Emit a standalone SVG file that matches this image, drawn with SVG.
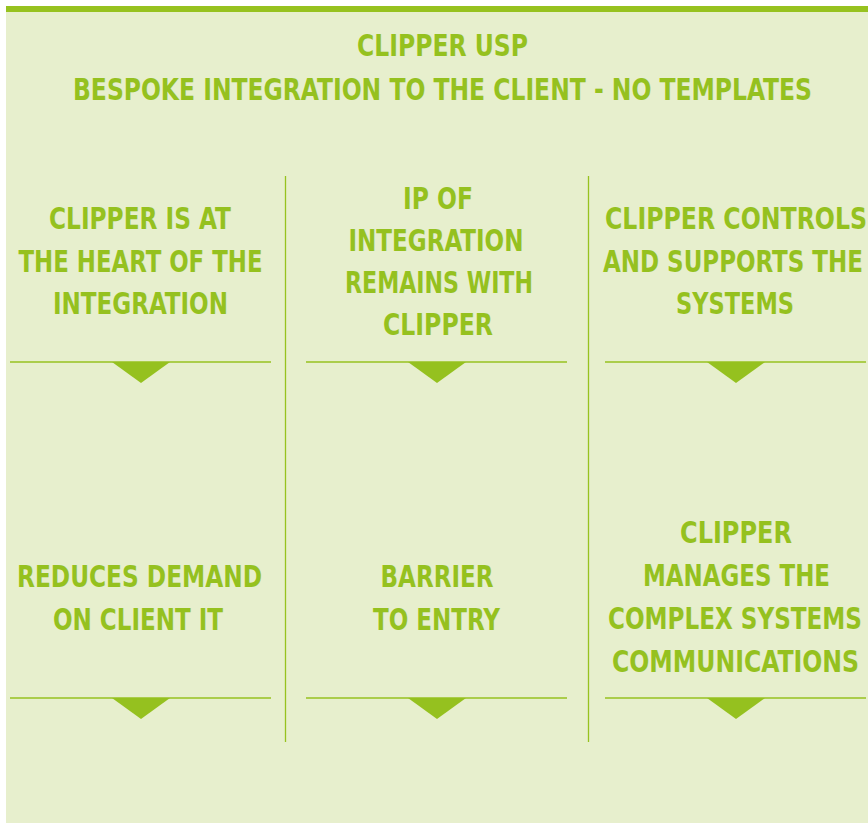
<svg xmlns="http://www.w3.org/2000/svg" width="868" height="823" viewBox="0 0 868 823">
  <style>
    .bg { fill: #e7efcd; }
    .bar { fill: #97c21f; }
    .t { font-family: "Liberation Sans Narrow", "DejaVu Sans Condensed", "Liberation Sans", sans-serif; font-weight: bold; font-size: 29.5px; fill: #95c11f; text-anchor: middle; }
    .rule { stroke: #97c21f; stroke-width: 1.3; fill: none; }
    .tri { fill: #95c11f; }
  </style>
  <defs>
    <!-- downward pointer under each card -->
    <polygon id="pointer" points="-29,0 29,0 0,21"/>
  </defs>

  <!-- panel -->
  <rect class="bg" x="6" y="6" width="862" height="817"/>
  <rect class="bar" x="6" y="6" width="862" height="6"/>

  <g id="title">
    <text class="t" x="442.5" y="56" textLength="171" lengthAdjust="spacingAndGlyphs">CLIPPER USP</text>
    <text class="t" x="442.5" y="100" textLength="739" lengthAdjust="spacingAndGlyphs">BESPOKE INTEGRATION TO THE CLIENT - NO TEMPLATES</text>
  </g>

  <!-- column separators -->
  <g id="separators">
    <line class="rule" x1="285.5" y1="176" x2="285.5" y2="742"/>
    <line class="rule" x1="588.5" y1="176" x2="588.5" y2="742"/>
  </g>

  <g id="heart">
    <text class="t" x="140" y="229" textLength="182" lengthAdjust="spacingAndGlyphs">CLIPPER IS AT</text>
    <text class="t" x="140.5" y="272" textLength="244" lengthAdjust="spacingAndGlyphs">THE HEART OF THE</text>
    <text class="t" x="140.5" y="314" textLength="175" lengthAdjust="spacingAndGlyphs">INTEGRATION</text>
    <line class="rule" x1="10" y1="362" x2="271" y2="362"/>
    <use href="#pointer" class="tri" x="141" y="362"/>
  </g>

  <g id="ip">
    <text class="t" x="438" y="209" textLength="70" lengthAdjust="spacingAndGlyphs">IP OF</text>
    <text class="t" x="436" y="251" textLength="175" lengthAdjust="spacingAndGlyphs">INTEGRATION</text>
    <text class="t" x="439" y="293" textLength="188" lengthAdjust="spacingAndGlyphs">REMAINS WITH</text>
    <text class="t" x="438" y="335" textLength="110" lengthAdjust="spacingAndGlyphs">CLIPPER</text>
    <line class="rule" x1="306" y1="362" x2="567" y2="362"/>
    <use href="#pointer" class="tri" x="437" y="362"/>
  </g>

  <g id="controls">
    <text class="t" x="736" y="229" textLength="262" lengthAdjust="spacingAndGlyphs">CLIPPER CONTROLS</text>
    <text class="t" x="733" y="272" textLength="260" lengthAdjust="spacingAndGlyphs">AND SUPPORTS THE</text>
    <text class="t" x="735" y="314" textLength="118" lengthAdjust="spacingAndGlyphs">SYSTEMS</text>
    <line class="rule" x1="605" y1="362" x2="866" y2="362"/>
    <use href="#pointer" class="tri" x="736" y="362"/>
  </g>

  <g id="demand">
    <text class="t" x="139.5" y="587" textLength="245" lengthAdjust="spacingAndGlyphs">REDUCES DEMAND</text>
    <text class="t" x="138" y="630" textLength="170" lengthAdjust="spacingAndGlyphs">ON CLIENT IT</text>
    <line class="rule" x1="10" y1="698" x2="271" y2="698"/>
    <use href="#pointer" class="tri" x="141" y="698"/>
  </g>

  <g id="barrier">
    <text class="t" x="437" y="587" textLength="113" lengthAdjust="spacingAndGlyphs">BARRIER</text>
    <text class="t" x="436.5" y="630" textLength="127" lengthAdjust="spacingAndGlyphs">TO ENTRY</text>
    <line class="rule" x1="306" y1="698" x2="567" y2="698"/>
    <use href="#pointer" class="tri" x="437" y="698"/>
  </g>

  <g id="manages">
    <text class="t" x="736" y="543" textLength="112" lengthAdjust="spacingAndGlyphs">CLIPPER</text>
    <text class="t" x="736.5" y="586" textLength="187" lengthAdjust="spacingAndGlyphs">MANAGES THE</text>
    <text class="t" x="735" y="629" textLength="254" lengthAdjust="spacingAndGlyphs">COMPLEX SYSTEMS</text>
    <text class="t" x="735.5" y="672" textLength="247" lengthAdjust="spacingAndGlyphs">COMMUNICATIONS</text>
    <line class="rule" x1="605" y1="698" x2="866" y2="698"/>
    <use href="#pointer" class="tri" x="736" y="698"/>
  </g>
</svg>
